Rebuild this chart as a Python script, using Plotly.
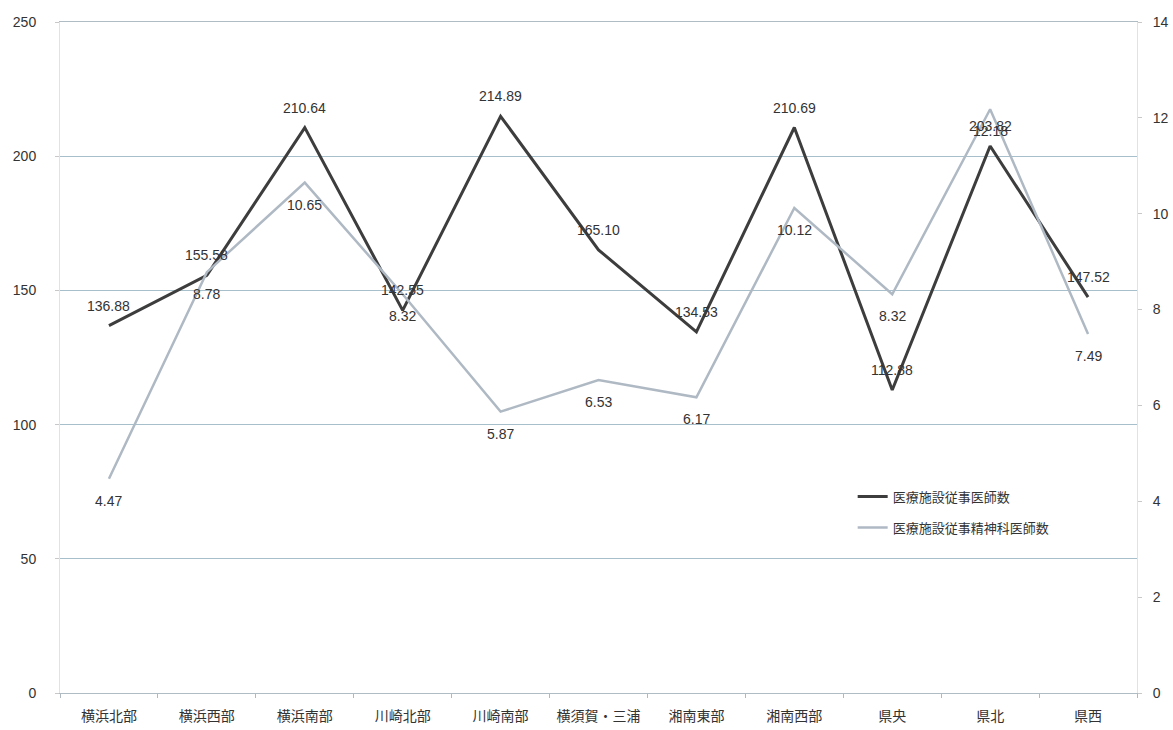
import plotly.graph_objects as go

# 二次医療圏
areas = ["横浜北部", "横浜西部", "横浜南部", "川崎北部", "川崎南部", "横須賀・三浦",
         "湘南東部", "湘南西部", "県央", "県北", "県西"]

# 人口10万対
doctors = [136.88, 155.58, 210.64, 142.55, 214.89, 165.10, 134.53, 210.69, 112.88, 203.82, 147.52]
psychiatrists = [4.47, 8.78, 10.65, 8.32, 5.87, 6.53, 6.17, 10.12, 8.32, 12.18, 7.49]

name_doctors = "医療施設従事医師数"
name_psych = "医療施設従事精神科医師数"

DARK = "#3d3d3d"
LIGHT = "#afb9c4"
GRID = "#a6bfca"
TXT = "#333333"
NUM_FONT = "Liberation Sans, Arial, sans-serif"
CJK_FONT = "Noto Sans CJK JP, sans-serif"

fig = go.Figure()
fig.add_trace(go.Scatter(
    x=areas, y=doctors, name=name_doctors, mode="lines",
    line=dict(color=DARK, width=3), legendgroup="a", yaxis="y"))
fig.add_trace(go.Scatter(
    x=areas, y=psychiatrists, name=name_psych, mode="lines",
    line=dict(color=LIGHT, width=2.5), legendgroup="b", yaxis="y2"))

annotations = []
for a, v in zip(areas, doctors):
    annotations.append(dict(x=a, y=v, xref="x", yref="y", text=f"{v:.2f}",
                            showarrow=False, yshift=20,
                            font=dict(family=NUM_FONT, size=14, color=TXT)))
for a, v in zip(areas, psychiatrists):
    annotations.append(dict(x=a, y=v, xref="x", yref="y2", text=f"{v:.2f}",
                            showarrow=False, yshift=-22,
                            font=dict(family=NUM_FONT, size=14, color=TXT)))

fig.update_layout(
    width=1173, height=730,
    margin=dict(l=60, r=36, t=22, b=37, autoexpand=False),
    paper_bgcolor="white", plot_bgcolor="white",
    showlegend=True,
    legend=dict(x=0.736, y=0.315, xanchor="left", yanchor="top",
                bgcolor="rgba(0,0,0,0)", tracegroupgap=11,
                traceorder="grouped",
                font=dict(family=CJK_FONT, size=13, color=TXT)),
    xaxis=dict(type="category", categoryorder="array", categoryarray=areas,
               range=[-0.5, len(areas) - 0.5], automargin=False,
               tickson="boundaries", ticks="outside", ticklen=4,
               tickcolor="#b0b8c0", showline=True, linecolor="#b0bcc4",
               linewidth=1, mirror=True, showgrid=False,
               ticklabelstandoff=10,
               tickfont=dict(family=CJK_FONT, size=14, color=TXT)),
    yaxis=dict(range=[0, 250], dtick=50, tick0=0, showgrid=True,
               gridcolor=GRID, gridwidth=1.2, zeroline=False, automargin=False,
               showline=True, linecolor="#e2e2e2", ticks="outside",
               ticklen=4, tickcolor="#c8c8c8", ticklabelstandoff=16,
               tickfont=dict(family=NUM_FONT, size=14, color=TXT)),
    yaxis2=dict(range=[0, 14], dtick=2, tick0=0, overlaying="y", side="right",
                showgrid=False, zeroline=False, showline=True, automargin=False,
                linecolor="#e2e2e2", ticks="outside", ticklen=4,
                tickcolor="#c8c8c8", ticklabelstandoff=8,
                tickfont=dict(family=NUM_FONT, size=14, color=TXT)),
    annotations=annotations,
)

fig.write_html("out.html")
